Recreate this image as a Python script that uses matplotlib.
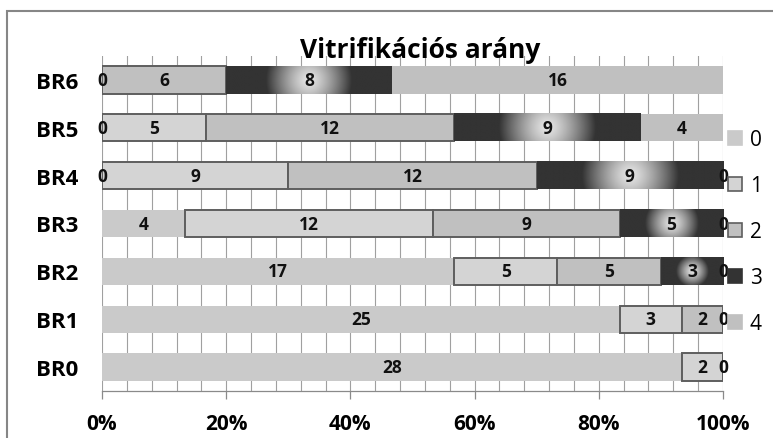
import matplotlib

matplotlib.use("Agg")

import matplotlib.pyplot as plt
import numpy as np
from matplotlib.patches import Patch, Rectangle

plt.rcParams["font.family"] = ["Open Sans", "DejaVu Sans"]

# data (counts per stage, BR0 at the bottom)
categories = ["BR0", "BR1", "BR2", "BR3", "BR4", "BR5", "BR6"]
series_names = ["0", "1", "2", "3", "4"]
s0 = [28, 25, 17, 4, 0, 0, np.nan]
s1 = [2, 3, 5, 12, 9, 5, 0]
s2 = [0, 2, 5, 9, 12, 12, 6]
s3 = [np.nan, 0, 3, 5, 9, 9, 8]
s4 = [np.nan, np.nan, 0, 0, 0, 4, 16]
title = "Vitrifikációs arány"

series = [np.array(s, dtype=float) for s in (s0, s1, s2, s3, s4)]
totals = np.nansum(np.vstack(series), axis=0)

face = ["#cacaca", "#d4d4d4", "#c0c0c0", "#333333", "#c0c0c0"]
edge = ["none", "#5e5e5e", "#5e5e5e", "none", "none"]

W, H = 773, 439
fig = plt.figure(figsize=(W / 100, H / 100), dpi=100)
ax = fig.add_axes([102 / W, 1 - 392 / H, 621 / W, 335 / H])

y = np.arange(len(categories))
left = np.zeros(len(categories))
containers = []
for i, vals in enumerate(series):
    frac = np.nan_to_num(vals) / totals
    bars = ax.barh(y, frac, left=left, height=0.57, color=face[i],
                   edgecolor=edge[i], linewidth=1.4 if edge[i] != "none" else 0,
                   zorder=2)
    containers.append(bars)
    left = left + frac

# radial highlight on series 3 bars
px_x = 621 / 1.0
px_y = 335 / len(categories)
c_center = np.array([0.90, 0.90, 0.90])
c_edge = np.array([0.20, 0.20, 0.20])
for rect, v in zip(containers[3], series[3]):
    w = rect.get_width()
    if np.isnan(v) or w <= 0:
        continue
    x0, y0, h = rect.get_x(), rect.get_y(), rect.get_height()
    xs = np.linspace(x0, x0 + w, 240)
    ys = np.linspace(y0, y0 + h, 40)
    X, Y = np.meshgrid(xs, ys)
    dx = (X - (x0 + w / 2)) * px_x
    dy = (Y - (y0 + h / 2)) * px_y
    R = max(0.26 * w * px_x, 12)
    t = np.clip(np.sqrt(dx ** 2 + dy ** 2) / R, 0, 1) ** 1.3
    img = c_center[None, None, :] * (1 - t[..., None]) + c_edge[None, None, :] * t[..., None]
    ax.imshow(img, extent=[x0, x0 + w, y0, y0 + h], aspect="auto",
              interpolation="bilinear", zorder=2.5)

ax.set_xlim(0, 1)
ax.set_ylim(-0.5, len(categories) - 0.5)

# data labels
for bars, vals in zip(containers, series):
    labels = ["" if np.isnan(v) else f"{int(v)}" for v in vals]
    ax.bar_label(bars, labels=labels, label_type="center", fontsize=12.5,
                 fontweight="bold", color="#111111", zorder=4)

# axes styling
ax.set_axisbelow(True)
ticks = np.linspace(0, 1, 6)
ax.set_xticks(ticks)
ax.set_xticklabels([f"{int(round(v * 100))}%" for v in ticks],
                   fontsize=15, fontweight="bold")
ax.set_xticks(np.arange(0, 1.0001, 0.04), minor=True)
ax.grid(True, axis="x", which="both", color="#a0a0a0", linewidth=0.8, zorder=0)
ax.tick_params(axis="x", which="major", length=6, width=0.9, color="#8a8a8a",
               pad=10)
ax.tick_params(axis="x", which="minor", length=0)
ax.set_yticks(y)
ax.set_yticklabels(categories, fontsize=16, fontweight="bold")
ax.tick_params(axis="y", length=0, pad=17)
for s in ("left", "right", "top"):
    ax.spines[s].set_visible(False)
ax.spines["bottom"].set_color("#8a8a8a")
ax.spines["bottom"].set_linewidth(0.9)

# title
fig.text(420 / W, 1 - 58 / H, title, ha="center", va="baseline",
         fontsize=19, fontweight="bold")

# legend
handles = [Patch(facecolor=face[i],
                 edgecolor=edge[i] if edge[i] != "none" else face[i],
                 linewidth=1.2) for i in range(len(series_names))]
fig.legend(handles, series_names, loc="upper left",
           bbox_to_anchor=(728 / W, 1 - 130 / H), frameon=False,
           fontsize=15, handlelength=0.65, handleheight=0.65,
           handletextpad=0.4, labelspacing=1.2, borderaxespad=0,
           borderpad=0)

# outer chart frame
fig.patches.append(Rectangle((7 / W, -0.05), 1.0, 1 - 12 / H + 0.05,
                             transform=fig.transFigure, fill=False,
                             edgecolor="#868686", linewidth=1.5))

fig.savefig("out.png", dpi=100)
